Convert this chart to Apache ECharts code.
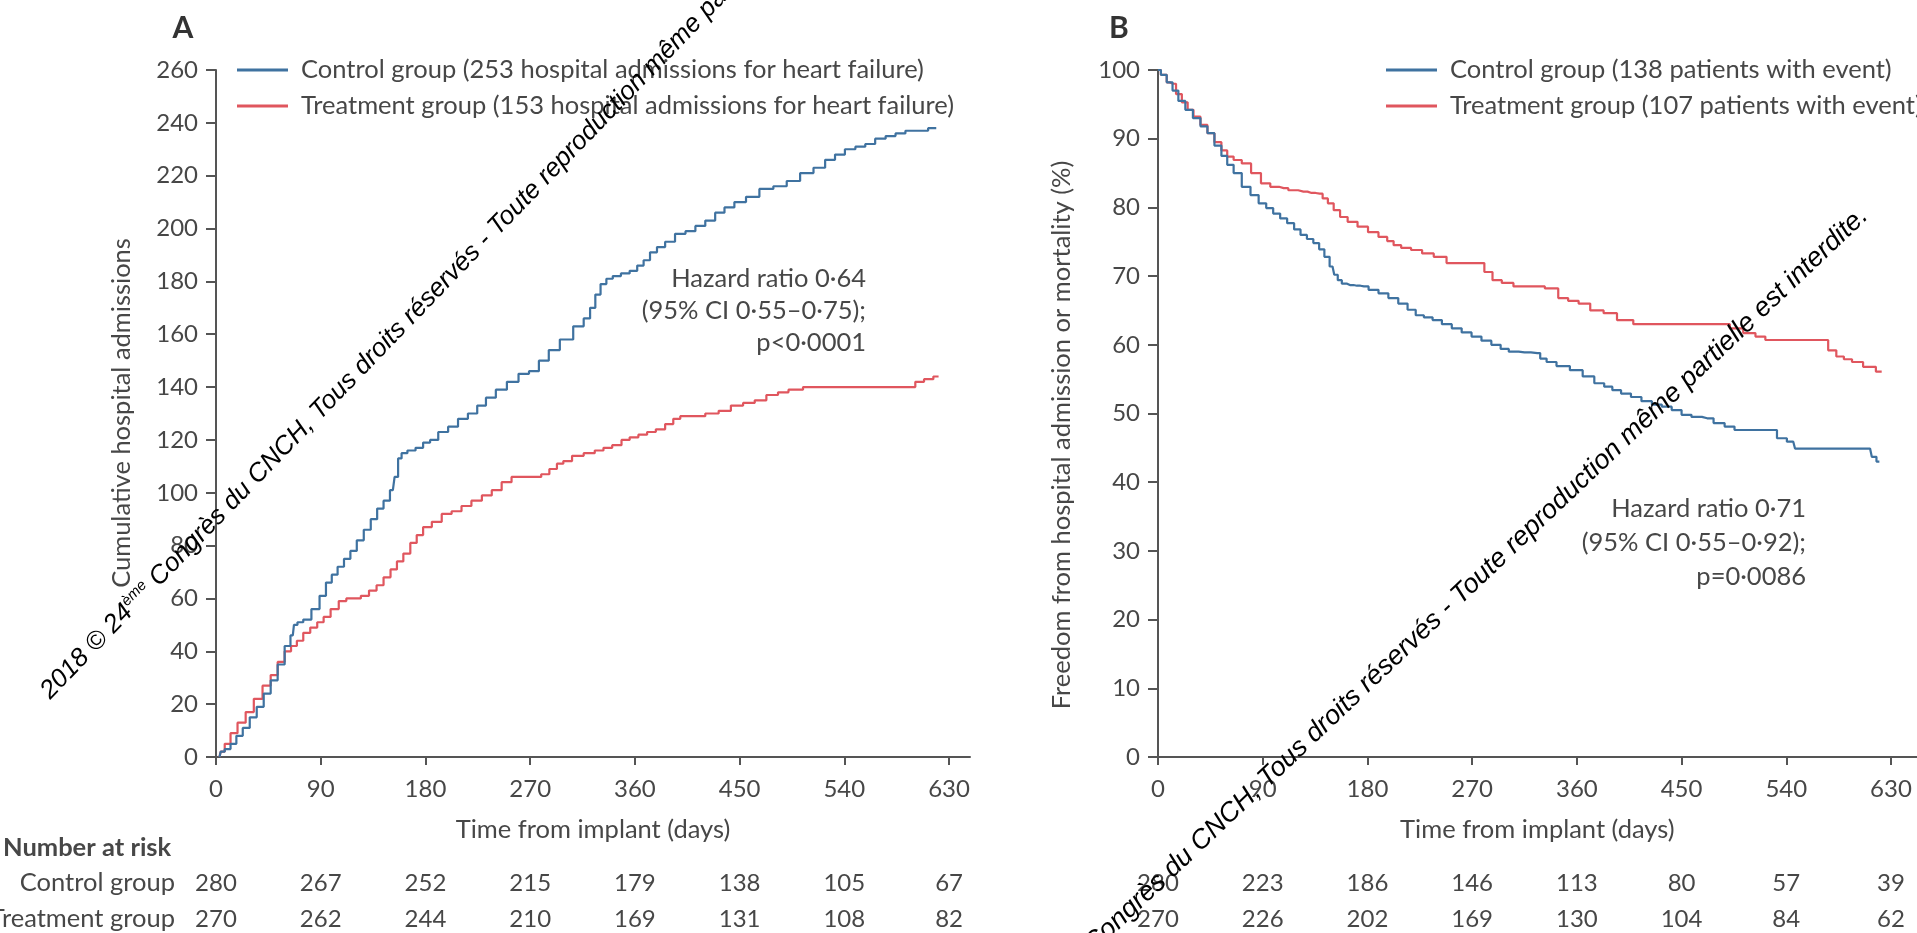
<!DOCTYPE html>
<html><head><meta charset="utf-8">
<script src="https://cdn.jsdelivr.net/npm/echarts@6/dist/echarts.min.js"></script>
<style>html,body{margin:0;padding:0;background:#fff}#c{width:1917px;height:933px}</style>
</head><body><div id="c"></div>
<script>
// ---------- data ----------
const xTicks = [0, 90, 180, 270, 360, 450, 540, 630];

const nameAControl = 'Control group (253 hospital admissions for heart failure)';
const nameATreatment = 'Treatment group (153 hospital admissions for heart failure)';
const nameBControl = 'Control group (138 patients with event)';
const nameBTreatment = 'Treatment group (107 patients with event)';

// Panel A: cumulative hospital admissions [day, count]
const aControl = [[3,0],[5,2],[10,3],[15,5],[20,8],[26,11],[32,15],[38,19],[44,24],[50,29],[56,35],[62,42],[66,46],[68,50],[72,51],[78,52],[86,56],[92,61],[97,66],[102,69],[107,72],[113,75],[118,78],[124,82],[130,86],[136,90],[141,94],[147,97],[152,101],[155,106],[158,113],[161,115],[168,116],[175,117],[181,119],[187,120],[195,123],[204,125],[212,128],[221,130],[228,133],[236,136],[245,139],[255,142],[265,145],[273,146],[282,150],[290,154],[301,158],[313,163],[319,166],[324,170],[328,175],[333,179],[338,181],[344,182],[352,183],[359,184],[365,186],[370,188],[376,191],[382,193],[390,195],[399,198],[408,199],[416,201],[425,203],[433,206],[441,208],[450,210],[461,212],[473,215],[485,216],[496,218],[508,221],[519,223],[528,226],[536,228],[545,230],[554,231],[562,232],[571,234],[580,235],[588,236],[597,237],[605,237],[619,238]];
const aTreatment = [[3,0],[5,2],[10,5],[15,9],[22,13],[29,17],[36,22],[44,27],[50,31],[56,36],[62,40],[67,42],[72,44],[78,47],[84,49],[90,51],[95,53],[102,56],[109,59],[115,60],[121,60],[128,61],[135,63],[141,65],[147,68],[153,71],[158,74],[164,77],[170,81],[175,84],[181,87],[190,89],[198,92],[207,93],[215,95],[224,97],[233,99],[241,101],[250,104],[258,106],[267,106],[276,106],[283,107],[290,109],[296,111],[301,112],[311,114],[321,115],[330,116],[336,117],[345,118],[352,120],[359,121],[367,122],[374,123],[382,124],[390,126],[396,128],[402,129],[414,129],[427,130],[437,131],[448,133],[458,134],[468,135],[478,137],[488,138],[496,139],[513,140],[542,140],[570,140],[597,140],[605,142],[612,143],[621,144]];

// Panel B: freedom from admission or mortality (%) [day, percent]
const bControl = [[0,100],[5,99.3],[10,98.2],[15,97],[20,95.5],[27,94.2],[33,93],[40,91.8],[45,90.8],[52,89],[57,87.5],[62,86.2],[68,85],[76,83],[83,81.8],[90,80.6],[96,79.9],[102,79.1],[108,78.4],[114,77.7],[120,76.8],[125,76],[131,75.4],[136,74.8],[141,73.9],[145,72.8],[150,71.4],[153,70.2],[156,69.4],[160,68.9],[165,68.7],[171,68.6],[177,68.5],[185,68],[194,67.5],[202,66.8],[211,66],[218,65.1],[225,64.3],[232,64],[240,63.6],[248,63],[257,62.4],[265,61.8],[274,61.2],[282,60.6],[291,60],[298,59.4],[305,59],[315,58.9],[326,58.8],[331,58],[337,57.5],[348,56.9],[360,56.3],[370,55.4],[380,54.4],[387,53.9],[394,53.4],[402,52.9],[411,52.4],[420,51.8],[429,51.3],[437,51],[446,50.5],[454,49.8],[463,49.5],[472,49.3],[483,48.6],[491,48.1],[500,47.6],[515,47.6],[529,47.6],[535,46.4],[546,45.9],[549,44.9],[565,44.9],[580,44.9],[597,44.9],[612,44.9],[615,43.7],[620,43]];
const bTreatment = [[0,100],[5,99.3],[10,98.2],[13,98],[18,96.5],[23,95.3],[28,94.2],[33,93.2],[40,92],[45,90.8],[52,89.5],[57,88.3],[62,87.4],[68,86.9],[76,86.4],[84,85],[93,83.5],[100,83],[108,82.8],[116,82.5],[125,82.3],[132,82.1],[139,82],[144,81.3],[148,80.6],[154,79.6],[159,78.6],[167,77.9],[176,77.2],[185,76.4],[194,75.7],[200,75.1],[205,74.5],[213,74.1],[222,73.8],[232,73.3],[242,72.8],[254,71.9],[266,71.9],[277,71.9],[284,70.6],[291,69.4],[300,69],[311,68.5],[325,68.5],[340,68.2],[348,66.8],[357,66.4],[366,66],[377,65],[389,64.6],[400,63.6],[417,63],[440,63],[465,63],[486,63],[497,62.4],[509,61.7],[518,61.2],[526,60.7],[550,60.7],[572,60.7],[580,59.2],[586,58.3],[593,57.9],[600,57.5],[612,56.8],[622,56.1]];

// Number at risk
const riskAControl = [280, 267, 252, 215, 179, 138, 105, 67];
const riskATreatment = [270, 262, 244, 210, 169, 131, 108, 82];
const riskBControl = [280, 223, 186, 146, 113, 80, 57, 39];
const riskBTreatment = [270, 226, 202, 169, 130, 104, 84, 62];

// ---------- chart ----------
const FONT = 'Lato, "Open Sans", sans-serif';
const TXT = '#474747';
const AX = '#555555';
const BLUE = '#3f72a0';
const RED = '#e0565e';
const FS = 25.5;
const WM_A = 'italic 26px "Liberation Sans", Arial, sans-serif';
const WM_B = 'italic 27px "Liberation Sans", Arial, sans-serif';

const chart = echarts.init(document.getElementById('c'), null, {renderer: 'canvas', width: 1917, height: 933});

function mainX(gridIndex, max) {
  return {
    type: 'value', gridIndex, min: 0, max, position: 'bottom',
    axisLine: {show: true, onZero: false, lineStyle: {color: AX, width: 2}},
    axisTick: {show: true, length: 8, customValues: xTicks, lineStyle: {color: AX, width: 2}},
    axisLabel: {show: true, customValues: xTicks, margin: 20, color: TXT, fontFamily: FONT, fontSize: 24,
      formatter: v => (v % 90 === 0 ? String(v) : '')},
    splitLine: {show: false},
    name: 'Time from implant (days)', nameLocation: 'middle', nameGap: 60,
    nameTextStyle: {color: TXT, fontFamily: FONT, fontSize: FS}
  };
}
function riskX(gridIndex, max, values, offset) {
  return {
    type: 'value', gridIndex, min: 0, max, position: 'bottom', offset,
    axisLine: {show: false}, axisTick: {show: false}, splitLine: {show: false},
    axisLabel: {show: true, customValues: xTicks, margin: 0, color: TXT, fontFamily: FONT, fontSize: 24,
      formatter: v => { const i = xTicks.indexOf(v); return i >= 0 ? String(values[i]) : ''; }}
  };
}
function yAx(gridIndex, max, interval) {
  return {
    type: 'value', gridIndex, min: 0, max, interval,
    axisLine: {show: true, onZero: false, lineStyle: {color: AX, width: 2}},
    axisTick: {show: true, length: 10, lineStyle: {color: AX, width: 2}},
    axisLabel: {margin: 18, color: TXT, fontFamily: FONT, fontSize: 24},
    splitLine: {show: false}
  };
}
function lineSeries(name, xi, yi, data, color) {
  return {type: 'line', name, xAxisIndex: xi, yAxisIndex: yi, data, step: 'middle',
    showSymbol: false, symbol: 'none', lineStyle: {color, width: 2.2}, itemStyle: {color}, z: 3, animation: false};
}
function txt(x, y, text, opt) {
  opt = opt || {};
  const s = Object.assign({text, fill: TXT, fontFamily: FONT, fontSize: FS,
    align: opt.align || 'left', textAlign: opt.align || 'left',
    verticalAlign: 'middle', textVerticalAlign: 'middle'}, opt.style || {});
  return {type: 'text', x, y, rotation: opt.rotation || 0, z: 10, style: s, silent: true};
}
const legendBase = {orient: 'vertical', itemWidth: 51, itemHeight: 3, itemGap: 10, icon: 'rect', padding: 0,
  selectedMode: false, textStyle: {color: TXT, fontFamily: FONT, fontSize: FS, lineHeight: 25, padding: [0, 0, 0, 8]}};

const wmText = '2018 © 24{s|ème} Congrès du CNCH, Tous droits réservés - Toute reproduction même partielle est interdite.';
const wmRich = {s: {font: 'italic 15px "Liberation Sans", Arial, sans-serif', fill: '#000', padding: [0, 0, 13, 0]}};

chart.setOption({
  animation: false,
  backgroundColor: '#ffffff',
  grid: [
    {left: 216, top: 70, width: 754, height: 687},
    {left: 1158, top: 70, width: 758.6, height: 687}
  ],
  xAxis: [
    mainX(0, 648), riskX(0, 648, riskAControl, 114), riskX(0, 648, riskATreatment, 150),
    mainX(1, 652), riskX(1, 652, riskBControl, 114), riskX(1, 652, riskBTreatment, 150)
  ],
  yAxis: [yAx(0, 260, 20), yAx(1, 100, 10)],
  legend: [
    Object.assign({}, legendBase, {data: [nameAControl, nameATreatment], left: 237, top: 57}),
    Object.assign({}, legendBase, {data: [nameBControl, nameBTreatment], left: 1386, top: 57})
  ],
  series: [
    lineSeries(nameATreatment, 0, 0, aTreatment, RED),
    lineSeries(nameAControl, 0, 0, aControl, BLUE),
    lineSeries(nameBTreatment, 3, 1, bTreatment, RED),
    lineSeries(nameBControl, 3, 1, bControl, BLUE)
  ],
  graphic: [
    txt(183, 28, 'A', {align: 'center', style: {fontSize: 30, fontWeight: 'bold', fill: '#333'}}),
    txt(1119, 28, 'B', {align: 'center', style: {fontSize: 30, fontWeight: 'bold', fill: '#333'}}),
    txt(122, 413, 'Cumulative hospital admissions', {align: 'center', rotation: Math.PI / 2}),
    txt(1062, 435, 'Freedom from hospital admission or mortality (%)', {align: 'center', rotation: Math.PI / 2}),
    txt(866, 279, 'Hazard ratio 0·64', {align: 'right'}),
    txt(866, 311, '(95% CI 0·55–0·75);', {align: 'right'}),
    txt(866, 343, 'p<0·0001', {align: 'right'}),
    txt(1806, 509, 'Hazard ratio 0·71', {align: 'right'}),
    txt(1806, 543, '(95% CI 0·55–0·92);', {align: 'right'}),
    txt(1806, 577, 'p=0·0086', {align: 'right'}),
    txt(3, 848, 'Number at risk', {style: {fontWeight: 'bold'}}),
    txt(175, 883, 'Control group', {align: 'right'}),
    txt(175, 919, 'Treatment group', {align: 'right'}),
    {type: 'text', x: 45, y: 695, rotation: 46 * Math.PI / 180, z: 20, silent: true,
      style: {text: wmText, rich: wmRich, font: WM_A, fill: '#000', align: 'left', textAlign: 'left', verticalAlign: 'middle', textVerticalAlign: 'middle'}},
    {type: 'text', x: 1864, y: 212, rotation: 43.5 * Math.PI / 180, z: 20, silent: true,
      style: {text: wmText, rich: wmRich, font: WM_B, fill: '#000', align: 'right', textAlign: 'right', verticalAlign: 'middle', textVerticalAlign: 'middle'}}
  ]
});
</script>
</body></html>
